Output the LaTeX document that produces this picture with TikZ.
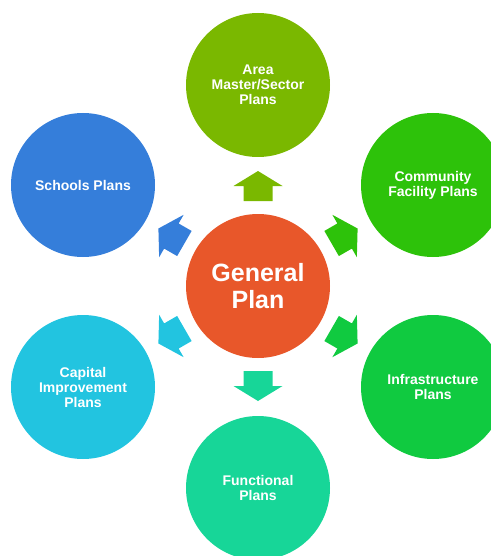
\documentclass[tikz,border=0pt]{standalone}
\usepackage{fontspec}
\setmainfont{Liberation Sans}
\usetikzlibrary{calc}
\definecolor{cOrange}{HTML}{E8572A}
\definecolor{cArea}{HTML}{7AB800}
\definecolor{cSchool}{HTML}{357EDA}
\definecolor{cComm}{HTML}{2DC20A}
\definecolor{cInfra}{HTML}{10CA40}
\definecolor{cFunc}{HTML}{17D698}
\definecolor{cCap}{HTML}{22C4E0}
\tikzset{
  plan/.style={circle, minimum size=144pt, inner sep=0pt, text=white,
    align=center, font=\bfseries\fontsize{14}{15}\selectfont},
  core/.style={plan, font=\bfseries\fontsize{25}{27}\selectfont},
}
\newcommand\blockarr[3]{%
  \coordinate (ab) at ($(#1)!85pt!(#2)$);
  \coordinate (ah) at ($(#1)!100pt!(#2)$);
  \coordinate (at) at ($(#1)!115pt!(#2)$);
  \fill[#3] ($(ab)!14.5pt!90:(#2)$) -- ($(ah)!14.5pt!90:(#2)$) -- ($(ah)!24.5pt!90:(#2)$)
    -- (at) -- ($(ah)!24.5pt!-90:(#2)$) -- ($(ah)!14.5pt!-90:(#2)$)
    -- ($(ab)!14.5pt!-90:(#2)$) -- cycle;}
\begin{document}
\begin{tikzpicture}[x=1pt,y=-1pt]
\useasboundingbox (0,0) rectangle (490,556);
\node[core, fill=cOrange] (gp) at (258,286) {General\\Plan};
\node[plan, fill=cArea] (area) at (258,85) {Area\\Master/Sector\\Plans};
\node[plan, fill=cSchool] (school) at (83,185) {Schools Plans};
\node[plan, fill=cComm] (comm) at (433,185) {Community\\Facility Plans};
\node[plan, fill=cInfra] (infra) at (433,387) {Infrastructure\\Plans};
\node[plan, fill=cCap] (cap) at (83,387) {Capital\\Improvement\\Plans};
\node[plan, fill=cFunc] (func) at (258,488) {Functional\\Plans};
\blockarr{gp}{area}{cArea}
\blockarr{gp}{comm}{cComm}
\blockarr{gp}{infra}{cInfra}
\blockarr{gp}{func}{cFunc}
\blockarr{gp}{cap}{cCap}
\blockarr{gp}{school}{cSchool}
\end{tikzpicture}
\end{document}
